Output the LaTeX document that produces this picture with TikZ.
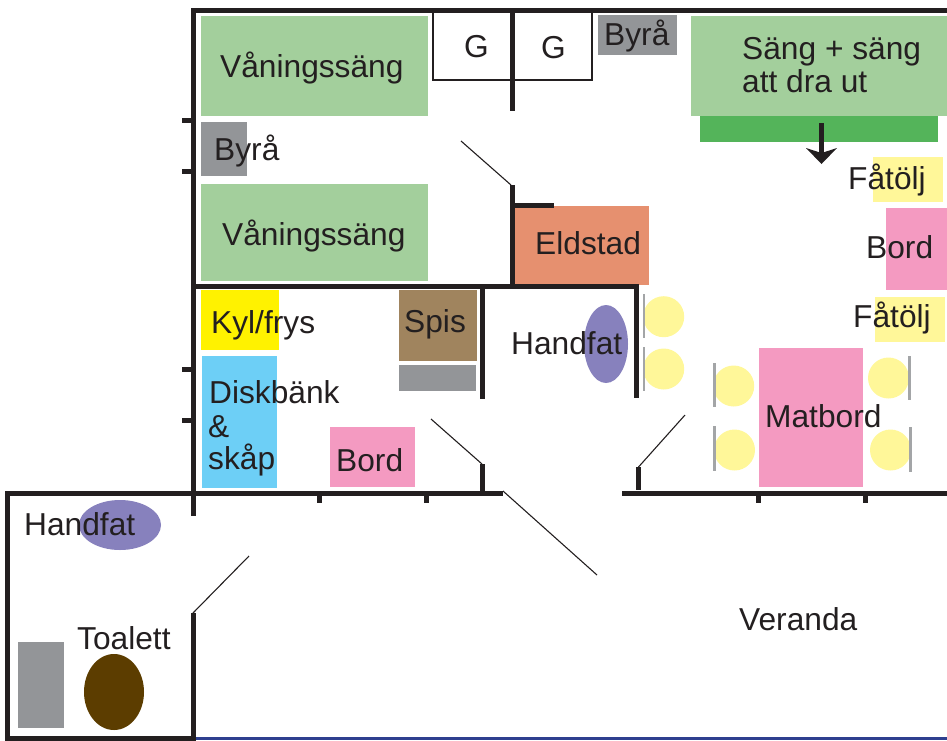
\documentclass[tikz,border=0pt]{standalone}
\usepackage{fontspec}
\setmainfont{Liberation Sans}
\definecolor{ink}{HTML}{231F20}
\definecolor{bedgreen}{HTML}{A3CF9C}
\definecolor{darkgreen}{HTML}{54B45A}
\definecolor{greyf}{HTML}{939598}
\definecolor{chair}{HTML}{FFF799}
\definecolor{pinkf}{HTML}{F49AC1}
\definecolor{fire}{HTML}{E6906F}
\definecolor{fridge}{HTML}{FFF200}
\definecolor{sink}{HTML}{6DCFF6}
\definecolor{stove}{HTML}{A0845E}
\definecolor{basin}{HTML}{8781BD}
\definecolor{wc}{HTML}{5C3D00}
\definecolor{veranda}{HTML}{2E3F8F}
\tikzset{
  wall/.style={draw=ink,line width=5pt},
  thinwall/.style={draw=ink,line width=2.8pt},
  door/.style={draw=ink,line width=1.1pt},
  chairbar/.style={draw=greyf!85!white,line width=2.2pt},
  lab/.style={text=ink,anchor=base west,inner sep=0pt,font=\fontsize{31.7}{38}\selectfont},
}
\begin{document}
\begin{tikzpicture}[x=1pt,y=-1pt]
\useasboundingbox (0,0) rectangle (947,740);
% furniture
\fill[bedgreen] (201,16) rectangle (428,116);
\fill[bedgreen] (201,184) rectangle (428,281);
\fill[greyf] (201,122) rectangle (247,176);
\fill[greyf] (598,15) rectangle (677,55);
\fill[bedgreen] (691,16) rectangle (946.5,116);
\fill[darkgreen] (700,116) rectangle (938,142);
\fill[chair] (873,157) rectangle (943,202);
\fill[pinkf] (886,208) rectangle (947,290);
\fill[chair] (875,297) rectangle (945,342);
\fill[fire] (515,206) rectangle (649,285);
\fill[fridge] (201,290) rectangle (279,350);
\fill[sink] (202,356) rectangle (277,488);
\fill[stove] (399,290) rectangle (477,361);
\fill[greyf] (399,365) rectangle (476,391);
\fill[pinkf] (330,427) rectangle (415,487);
\fill[pinkf] (759,348) rectangle (863,487);
\fill[basin] (606,344) ellipse [x radius=22,y radius=39];
\fill[basin] (120,525) ellipse [x radius=41,y radius=25];
\fill[wc] (114,692) ellipse [x radius=30,y radius=38];
\fill[greyf] (18,642) rectangle (64,728);
% chairs
\foreach \cx/\cy in {663.7/316.7,663.7/369,733.7/386,734.5/450,888.5/378,890.5/450}
  \fill[chair] (\cx,\cy) circle [radius=20.5];
\draw[chairbar] (644,294) -- (644,338);
\draw[chairbar] (644,347) -- (644,391);
\draw[chairbar] (714.5,363) -- (714.5,407);
\draw[chairbar] (714.5,426) -- (714.5,471);
\draw[chairbar] (909.5,356) -- (909.5,400);
\draw[chairbar] (910.5,427) -- (910.5,472);
% arrow of the bed
\draw[ink,line width=5pt] (821.5,123) -- (821.5,155);
\fill[ink] (806,148) -- (821.5,153) -- (837,148) -- (821.5,164) -- cycle;
% walls
\draw[thinwall] (433,10) -- (433,80) -- (592,80) -- (592,10);
\draw[veranda,line width=3pt] (193,738) -- (947,738);
\draw[wall] (191,10) -- (947,10);
\draw[wall] (193.5,8) -- (193.5,516);
\draw[wall] (512.5,10) -- (512.5,111);
\draw[wall] (512.5,185) -- (512.5,286);
\draw[wall] (512,205) -- (554,205);
\draw[wall] (193,286) -- (638,286);
\draw[wall] (482.5,286) -- (482.5,399);
\draw[wall] (636,284) -- (636,398);
\draw[wall] (482.5,464) -- (482.5,493);
\draw[wall] (5,493) -- (503,493);
\draw[wall] (622,493) -- (947,493);
\draw[wall] (638.5,467) -- (638.5,490);
\draw[wall] (7.5,491) -- (7.5,740);
\draw[wall] (5,738) -- (196,738);
\draw[wall] (193.5,613) -- (193.5,740);
\foreach \ty in {120,171,369,420} \draw[wall] (182,\ty) -- (193,\ty);
\foreach \tx in {319.5,426.5,758,865} \draw[wall] (\tx,493) -- (\tx,503);
% door leaves
\draw[door] (461,141) -- (511,185);
\draw[door] (431,419) -- (482,464);
\draw[door] (638.5,467) -- (685,415);
\draw[door] (503,491) -- (597,575);
\draw[door] (193,613) -- (249,556);
% labels
\node[lab] (v1) at (220,77) {Våningssäng};
\node[lab] (v2) at (222,245) {Våningssäng};
\node[lab] (g1) at (464,57) {G};
\node[lab] (g2) at (541,58) {G};
\node[lab] (b1) at (604,45) {Byrå};
\node[lab] (b2) at (214,160) {Byrå};
\node[lab] (s1) at (742,59) {Säng + säng};
\node[lab] (s2) at (742,92) {att dra ut};
\node[lab] (e) at (535,254) {Eldstad};
\node[lab] (f1) at (848,189) {Fåtölj};
\node[lab] (bo1) at (866,258) {Bord};
\node[lab] (f2) at (853,327) {Fåtölj};
\node[lab] (k) at (211,333) {Kyl/frys};
\node[lab] (sp) at (404,332) {Spis};
\node[lab] (h1) at (511,354) {Handfat};
\node[lab] (d1) at (209,403) {Diskbänk};
\node[lab] (d2) at (208,437) {\&};
\node[lab] (d3) at (208,469) {skåp};
\node[lab] (bo2) at (336,471) {Bord};
\node[lab] (m) at (765,427) {Matbord};
\node[lab] (h2) at (24,535) {Handfat};
\node[lab] (t) at (77,649) {Toalett};
\node[lab] (ve) at (739,630) {Veranda};
\end{tikzpicture}
\end{document}
